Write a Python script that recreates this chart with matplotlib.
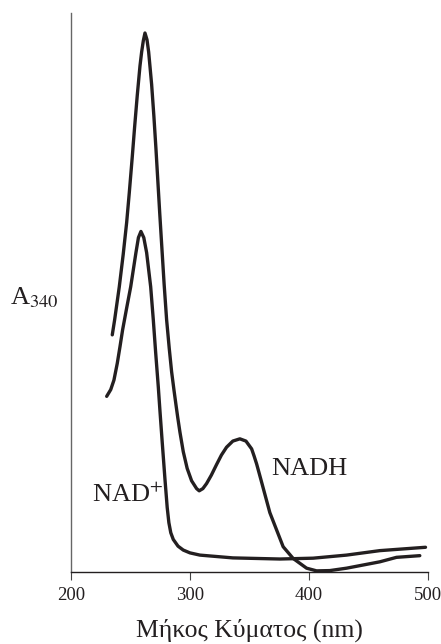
import matplotlib
matplotlib.use('Agg')
import matplotlib.pyplot as plt

plt.rcParams['font.family'] = ['Liberation Serif', 'DejaVu Serif']
plt.rcParams['mathtext.fontset'] = 'stix'

# NADH spectrum (wavelength nm, relative absorbance)
nadh_wl = [234.7, 236.7, 240.6, 243.9, 246.8, 249.0, 251.5, 253.5, 255.7, 258.0,
           259.4, 260.8, 262.2, 263.9, 265.3, 267.8, 269.7, 271.4, 273.0, 274.6,
           276.4, 278.3, 280.4, 282.6, 284.6, 286.6, 288.2, 289.7, 291.6, 294.4,
           297.7, 301.4, 305.6, 307.8, 310.9, 314.0, 318.0, 322.4, 326.5, 330.8,
           336.1, 342.0, 347.1, 351.9, 354.0, 356.1, 359.7, 367.2, 378.4, 386.8,
           398.1, 406.5, 417.6, 431.7, 459.7, 473.7, 493.3]
nadh_abs = [0.424, 0.451, 0.510, 0.568, 0.625, 0.678, 0.742, 0.796, 0.852, 0.905,
            0.930, 0.950, 0.964, 0.952, 0.930, 0.872, 0.815, 0.758, 0.700, 0.642,
            0.580, 0.515, 0.451, 0.400, 0.358, 0.325, 0.300, 0.277, 0.250, 0.215,
            0.185, 0.163, 0.149, 0.145, 0.149, 0.158, 0.173, 0.192, 0.209, 0.223,
            0.234, 0.238, 0.234, 0.220, 0.207, 0.193, 0.165, 0.106, 0.045, 0.024,
            0.0066, 0.0018, 0.0023, 0.0066, 0.018, 0.026, 0.029]

# NAD+ spectrum
nad_wl = [230.0, 233.4, 236.1, 238.9, 241.2, 243.4, 246.8, 250.2, 254.6, 256.7,
          258.8, 261.2, 263.6, 267.0, 269.2, 271.2, 273.4, 274.8, 276.7, 279.0,
          280.9, 282.3, 283.9, 286.0, 290.0, 294.4, 300.0, 308.4, 336.1, 375.6,
          403.6, 431.7, 459.7, 498.1]
nad_abs = [0.314, 0.326, 0.343, 0.373, 0.403, 0.433, 0.472, 0.510, 0.571, 0.598,
           0.609, 0.598, 0.571, 0.510, 0.451, 0.392, 0.331, 0.288, 0.232, 0.166,
           0.115, 0.088, 0.070, 0.058, 0.046, 0.039, 0.034, 0.030, 0.025, 0.023,
           0.0245, 0.030, 0.038, 0.044]

xticks = [200, 300, 400, 500]

fig = plt.figure(figsize=(4.41, 6.44), dpi=100)
ax = fig.add_axes([0.161, 0.112, 0.809, 0.868])

line_kw = dict(color='#231f20', linewidth=2.4, solid_capstyle='round', solid_joinstyle='round')
ax.plot(nadh_wl, nadh_abs, **line_kw)
ax.plot(nad_wl, nad_abs, **line_kw)

ax.set_xlim(200, 500)
ax.set_ylim(0, 1)
ax.set_xticks(xticks)
ax.set_yticks([])
ax.tick_params(axis='x', direction='out', length=6, width=0.8, color='#444444',
               labelsize=13.5, labelcolor='#231f20', pad=5)
for s in ['top', 'right']:
    ax.spines[s].set_visible(False)
ax.spines['left'].set_color('#666666')
ax.spines['left'].set_linewidth(1.0)
ax.spines['bottom'].set_color('#231f20')
ax.spines['bottom'].set_linewidth(1.0)

ax.text(217.6, 0.125, 'NAD$^{+}$', fontsize=19, color='#231f20')
ax.text(368, 0.174, 'NADH', fontsize=19, color='#231f20')

fig.text(0.023, 0.527, 'A$_{340}$', fontsize=19, color='#231f20', ha='left', va='baseline')
fig.text(0.565, 0.003, 'Μήκος Κύματος (nm)', fontsize=18.5, color='#231f20',
         ha='center', va='bottom')

fig.savefig('out.png', dpi=100, facecolor='white')
